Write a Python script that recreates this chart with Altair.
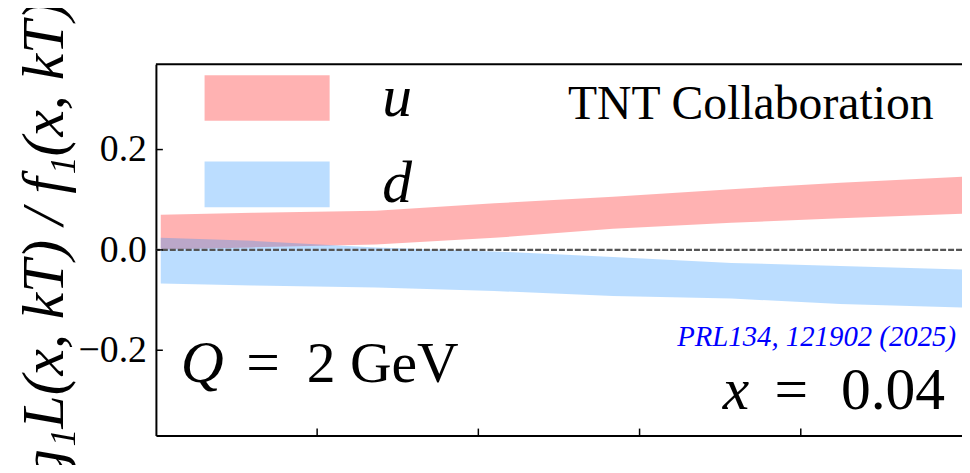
import altair as alt
import pandas as pd

# ---- data ----
kt = [0.006, 0.12, 0.273, 0.42, 0.567, 0.714, 0.849, 1.0]
u_hi = [0.070, 0.074, 0.078, 0.093, 0.106, 0.121, 0.134, 0.146]
u_lo = [0.001, 0.005, 0.011, 0.024, 0.042, 0.054, 0.063, 0.072]
d_hi = [0.024, 0.018, 0.005, -0.003, -0.014, -0.026, -0.032, -0.039]
d_lo = [-0.067, -0.071, -0.075, -0.082, -0.092, -0.097, -0.108, -0.115]

flavours = ["u", "d"]
band_colors = ["red", "dodgerblue"]
ytick_vals = [-0.2, 0.0, 0.2]
ytick_labels = ["\u22120.2", "0.0", "0.2"]
xtick_vals = [0.2, 0.4, 0.6, 0.8]

W, H = 812, 374
SERIF = "Liberation Serif"

rows = []
for i, k in enumerate(kt):
    rows.append({"kt": k, "lo": u_lo[i], "hi": u_hi[i], "flav": "u"})
    rows.append({"kt": k, "lo": d_lo[i], "hi": d_hi[i], "flav": "d"})
df = pd.DataFrame(rows)

xs = alt.Scale(domain=[0, 1.0], nice=False, zero=False)
ys = alt.Scale(domain=[-0.37, 0.37], nice=False, zero=False)
cs = alt.Scale(domain=flavours, range=band_colors)

xaxis = alt.Axis(labels=False, ticks=False, grid=False, title=None,
                 domainColor="black", domainWidth=2)
yaxis = alt.Axis(labels=False, ticks=False, grid=False, title=None,
                 domainColor="black", domainWidth=2)

legend = alt.Legend(title=None, orient="none", legendX=55, legendY=-23,
                    symbolType="M-1.105,-0.4035H1.105V0.4035H-1.105Z", symbolSize=12996,
                    symbolStrokeWidth=0, symbolOpacity=0.3,
                    labelFont=SERIF, labelFontStyle="italic", labelFontSize=60,
                    labelColor="black", labelOffset=59, rowPadding=0, padding=0)

def band(f):
    return alt.Chart(df).transform_filter(alt.datum.flav == f).mark_area(opacity=0.3).encode(
        x=alt.X("kt:Q", scale=xs, axis=xaxis),
        y=alt.Y("lo:Q", scale=ys, axis=yaxis),
        y2="hi:Q",
        color=alt.Color("flav:N", scale=cs, legend=legend, sort=flavours),
    )

zero = alt.Chart(pd.DataFrame({"lo": [0.0]})).mark_rule(
    color="#555555", strokeWidth=2.2, strokeDash=[6, 2]).encode(
    y=alt.Y("lo:Q", scale=ys, axis=yaxis))

top = alt.Chart(pd.DataFrame({"v": [0]})).mark_rule(color="black", strokeWidth=2).encode(
    y=alt.value(0))

tickdf = pd.DataFrame({"lo": ytick_vals, "lab": ytick_labels})
yt = alt.Chart(tickdf).mark_rule(color="black", strokeWidth=1.5).encode(
    y=alt.Y("lo:Q", scale=ys, axis=yaxis), x=alt.value(0), x2=alt.value(7))
ylab = alt.Chart(tickdf).mark_text(font=SERIF, fontSize=38, color="black", align="right",
                                   baseline="middle", dy=1).encode(
    y=alt.Y("lo:Q", scale=ys, axis=yaxis), x=alt.value(-9), text="lab:N")
xt = alt.Chart(pd.DataFrame({"kt": xtick_vals})).mark_rule(color="black", strokeWidth=1.5).encode(
    x=alt.X("kt:Q", scale=xs, axis=xaxis), y=alt.value(H), y2=alt.value(H - 7))

def txt(s, x, y, size, align="left", style="normal", color="black", angle=0, baseline="alphabetic"):
    return alt.Chart(pd.DataFrame({"t": [s]})).mark_text(
        font=SERIF, fontSize=size, fontStyle=style, color=color, align=align,
        baseline=baseline, angle=angle).encode(text="t:N", x=alt.value(x), y=alt.value(y))

texts = [
    txt("TNT Collaboration", 415, 55, 48),
    txt("Q", 25, 320, 60, style="italic"),
    txt("=", 91, 320, 60),
    txt("2 GeV", 152, 320, 58),
    txt("PRL134, 121902 (2025)", 806, 284, 29, align="right", style="italic", color="#0000ff"),
    txt("x", 571, 347, 60, style="italic"),
    txt("=", 623, 347, 60),
    txt("0.04", 795, 347, 60, align="right"),
    txt("g\u2081L(x, kT) / f\u2081(x, kT)", -112, 177, 60, align="center", style="italic",
        angle=270, baseline="middle"),
]

chart = alt.layer(band("u"), band("d"), zero, top, yt, ylab, xt, *texts).properties(
    width=W, height=H,
    autosize=alt.AutoSizeParams(type="none"),
    padding={"left": 149, "top": 55, "right": 0, "bottom": 28},
).configure_view(stroke=None)

chart.save("out.html", embed_options={"renderer": "svg", "actions": False})
